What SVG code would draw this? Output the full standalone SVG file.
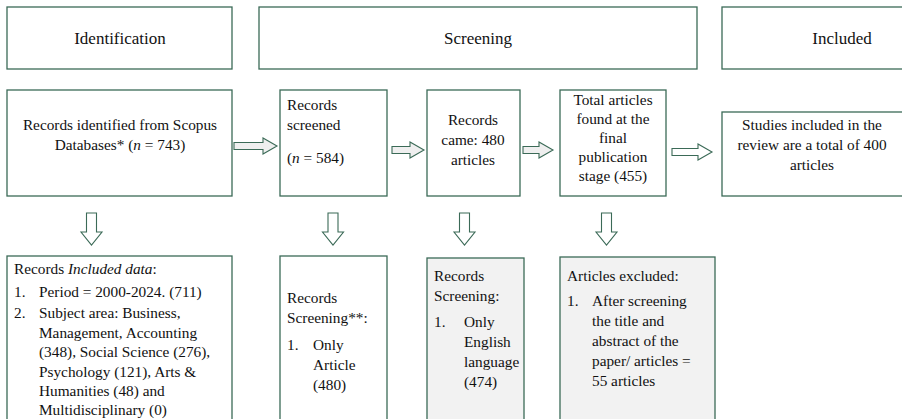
<svg xmlns="http://www.w3.org/2000/svg" width="902" height="419" viewBox="0 0 902 419">
<style>
.b{fill:#fff;stroke:#3b6a57;stroke-width:1.3}
.g{fill:#f2f2f2;stroke:#3b6a57;stroke-width:1.3}
.a{fill:#efefef;stroke:#3b6a57;stroke-width:1.1;stroke-linejoin:miter}
.w{fill:#fff;stroke:#3b6a57;stroke-width:1.1}
text{font-family:"Liberation Serif","Times New Roman",serif;font-size:15.3px;fill:#111}
.h{font-size:17px}
.m{text-anchor:middle}
</style>
<g id="hdr-identification"><rect class="b" x="7" y="7" width="225" height="62"/><text class="h m" x="120" y="44">Identification</text></g>
<g id="hdr-screening"><rect class="b" x="259" y="7" width="438" height="62"/><text class="h m" x="478" y="44">Screening</text></g>
<g id="hdr-included"><rect class="b" x="722" y="7" width="190" height="62"/><text class="h m" x="842" y="44">Included</text></g>

<g id="n-identified"><rect class="b" x="7" y="90" width="225" height="106"/>
<text class="m" x="120" y="130">Records identified from Scopus</text>
<text class="m" x="120" y="150">Databases* (<tspan font-style="italic">n</tspan> = 743)</text></g>

<g id="n-screened"><rect class="b" x="280" y="90" width="107" height="106"/>
<text x="287" y="110">Records</text>
<text x="287" y="130">screened</text>
<text x="287" y="163">(<tspan font-style="italic">n</tspan> = 584)</text></g>

<g id="n-came"><rect class="b" x="427" y="90" width="93" height="106"/>
<text class="m" x="473" y="125">Records</text>
<text class="m" x="473" y="145">came: 480</text>
<text class="m" x="473" y="165">articles</text></g>

<g id="n-total"><rect class="b" x="560" y="90" width="106" height="106"/>
<text class="m" x="613" y="105">Total articles</text>
<text class="m" x="613" y="124">found at the</text>
<text class="m" x="613" y="143">final</text>
<text class="m" x="613" y="162">publication</text>
<text class="m" x="613" y="181">stage (455)</text></g>

<g id="n-studies"><rect class="b" x="722" y="112" width="190" height="84"/>
<text class="m" x="812" y="130">Studies included in the</text>
<text class="m" x="812" y="150">review are a total of 400</text>
<text class="m" x="812" y="170">articles</text></g>

<g id="n-included-data"><rect class="b" x="7" y="256" width="225" height="170"/>
<text x="14" y="274">Records <tspan font-style="italic">Included data</tspan>:</text>
<text x="14" y="297">1.</text><text x="39" y="297">Period = 2000-2024. (711)</text>
<text x="14" y="318">2.</text><text x="39" y="318">Subject area: Business,</text>
<text x="39" y="337.5">Management, Accounting</text>
<text x="39" y="357">(348), Social Science (276),</text>
<text x="39" y="376.5">Psychology (121), Arts &amp;</text>
<text x="39" y="396">Humanities (48) and</text>
<text x="39" y="415">Multidisciplinary (0)</text></g>

<g id="n-screening-article"><rect class="b" x="280" y="256" width="107" height="170"/>
<text x="287" y="303">Records</text>
<text x="287" y="323">Screening**:</text>
<text x="287" y="350">1.</text><text x="313" y="350">Only</text>
<text x="313" y="370">Article</text>
<text x="313" y="390">(480)</text></g>

<g id="n-screening-english"><rect class="g" x="427" y="258" width="97" height="170"/>
<text x="434" y="281">Records</text>
<text x="434" y="301">Screening:</text>
<text x="434" y="327">1.</text><text x="464" y="327">Only</text>
<text x="464" y="347">English</text>
<text x="464" y="367">language</text>
<text x="464" y="387">(474)</text></g>

<g id="n-excluded"><rect class="g" x="560" y="257" width="155" height="170"/>
<text x="567" y="281">Articles excluded:</text>
<text x="567" y="306">1.</text><text x="592" y="306">After screening</text>
<text x="592" y="326">the title and</text>
<text x="592" y="346">abstract of the</text>
<text x="592" y="366">paper/ articles =</text>
<text x="592" y="386">55 articles</text></g>

<g id="connectors">
<path class="a" d="M234,142.5H263V138L277,146L263,154V149.5H234Z"/>
<path class="a" d="M392,146.5H410V142L424,150L410,158V153.5H392Z"/>
<path class="a" d="M523,146.5H539V142L553,150L539,158V153.5H523Z"/>
<path class="w" d="M672,148.5H698V144L712,152L698,160V155.5H672Z"/>
<path class="w" d="M86.5,213H96.5V232H102L91.5,245L81,232H86.5Z"/>
<path class="w" d="M328,213H338V232H343.5L333,245L322.5,232H328Z"/>
<path class="w" d="M459.5,213H469.5V232H475L464.5,245L454,232H459.5Z"/>
<path class="w" d="M601.5,213H611.5V232H617L606.5,245L596,232H601.5Z"/>
</g>
</svg>
